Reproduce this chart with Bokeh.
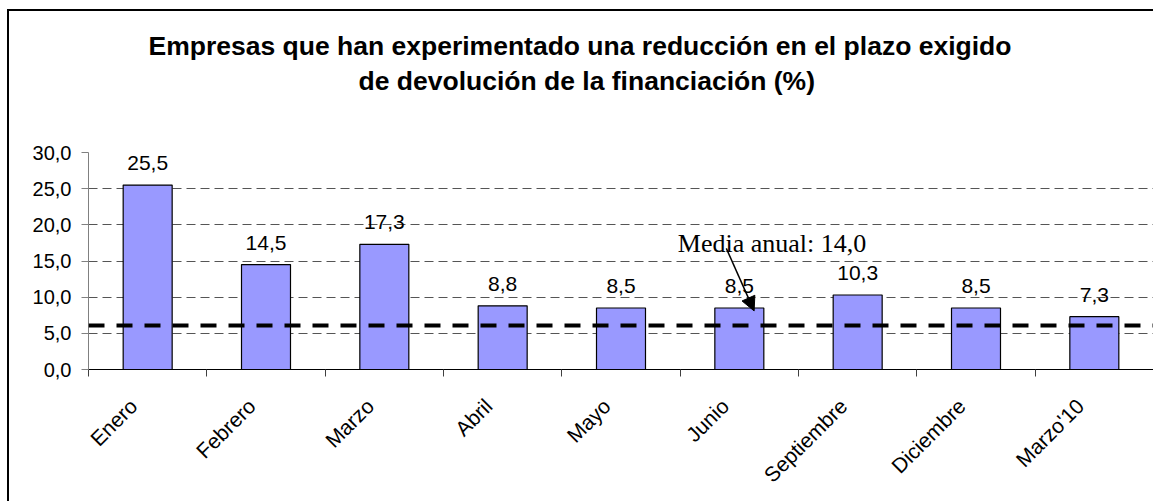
from math import pi
from bokeh.plotting import figure
from bokeh.models import (Range1d, FixedTicker, CustomJSTickFormatter, Span, Arrow,
                          NormalHead, Label, Title, ColumnDataSource, LabelSet)
from bokeh.embed import file_html
from bokeh.resources import INLINE
from bokeh.core.properties import value

# ---------------- data ----------------
categories = ["Enero", "Febrero", "Marzo", "Abril", "Mayo", "Junio",
              "Septiembre", "Diciembre", "Marzo'10"]
values = [25.5, 14.5, 17.3, 8.8, 8.5, 8.5, 10.3, 8.5, 7.3]
mean_level = 6.1
annotation_text = "Media anual: 14,0"
title_line1 = "Empresas que han experimentado una reducción en el plazo exigido"
title_line2 = "de devolución de la financiación (%)"
y_ticks = [0, 5, 10, 15, 20, 25, 30]

# ---------------- build ----------------
xpos = [i + 0.5 for i in range(len(categories))]
label_anchor = [x - 0.12 for x in xpos]
labels = [f"{v:.1f}".replace(".", ",") for v in values]
src = ColumnDataSource(dict(x=xpos, top=values, label=labels))

FONT = "Liberation Sans"

p = figure(frame_width=1065, frame_height=217,
           x_range=Range1d(0, len(categories)), y_range=Range1d(0, 30),
           output_backend="svg", toolbar_location=None,
           min_border_left=79, min_border_right=0,
           min_border_top=141, min_border_bottom=132)
p.styles = {"margin-left": "7px", "margin-top": "9px",
            "border-left": "2px solid black", "border-top": "2px solid black"}
p.background_fill_color = "white"
p.border_fill_color = "white"
p.outline_line_color = None

# titles: spacer (nearest the frame), line 2, then line 1 (outermost, p.title)
p.add_layout(Title(text=" ", text_font_size="1px", standoff=53), "above")
p.add_layout(Title(text=title_line2, align="left", offset=270, text_font=FONT,
                   text_font_size="26.5px", text_font_style="bold", text_color="black",
                   standoff=2), "above")
p.title.text = title_line1
p.title.align = "left"
p.title.offset = 60
p.title.text_font = FONT
p.title.text_font_size = "26.5px"
p.title.text_font_style = "bold"
p.title.text_color = "black"
p.title.standoff = 3

# grid
p.xgrid.visible = False
p.ygrid.ticker = FixedTicker(ticks=y_ticks)
p.ygrid.grid_line_color = "#555555"
p.ygrid.grid_line_dash = "9 5"
p.ygrid.grid_line_width = 1

# bars
p.vbar(x="x", top="top", bottom=0, width=0.414, source=src,
       fill_color="#9999FF", line_color="black", line_width=1.2)

# data labels
p.add_layout(LabelSet(x="x", y="top", text="label", source=src, text_align="center",
                      text_baseline="bottom", y_offset=15,
                      text_font=value(FONT), text_font_size="21px", text_color="black"))

# mean line
p.add_layout(Span(location=mean_level, dimension="width", line_color="black",
                  line_width=4, line_dash="16 12"))

# annotation
p.add_layout(Label(x=4.98, y=17.4, text=annotation_text, text_font="Liberation Serif",
                   text_font_size="26px", text_color="black", text_baseline="alphabetic"))
p.add_layout(Arrow(end=NormalHead(size=14, fill_color="black", line_color="black"),
                   x_start=5.39, y_start=16.75, x_end=5.625, y_end=8.1,
                   line_color="black", line_width=1.5))

# y axis
yax = p.yaxis[0]
yax.ticker = FixedTicker(ticks=y_ticks)
yax.formatter = CustomJSTickFormatter(code="return tick.toFixed(1).replace('.', ',');")
yax.axis_line_color = "#808080"
yax.major_tick_line_color = "#808080"
yax.major_tick_out = 7
yax.major_tick_in = 0
yax.minor_tick_line_color = None
yax.major_label_standoff = 10
yax.major_label_text_font = FONT
yax.major_label_text_font_size = "20px"
yax.major_label_text_color = "black"

# x axis
xax = p.xaxis[0]
xax.ticker = FixedTicker(ticks=label_anchor, minor_ticks=list(range(len(categories) + 1)))
xax.formatter = CustomJSTickFormatter(args=dict(labels=categories),
                                      code="return labels[Math.floor(tick)];")
xax.axis_line_color = "black"
xax.major_tick_out = 0
xax.major_tick_in = 0
xax.minor_tick_out = 7
xax.minor_tick_in = 0
xax.minor_tick_line_color = "#404040"
xax.major_label_orientation = pi / 4
xax.major_label_standoff = 26
xax.major_label_text_font = FONT
xax.major_label_text_font_size = "21px"
xax.major_label_text_color = "black"

open("out.html", "w").write(file_html(p, INLINE))
